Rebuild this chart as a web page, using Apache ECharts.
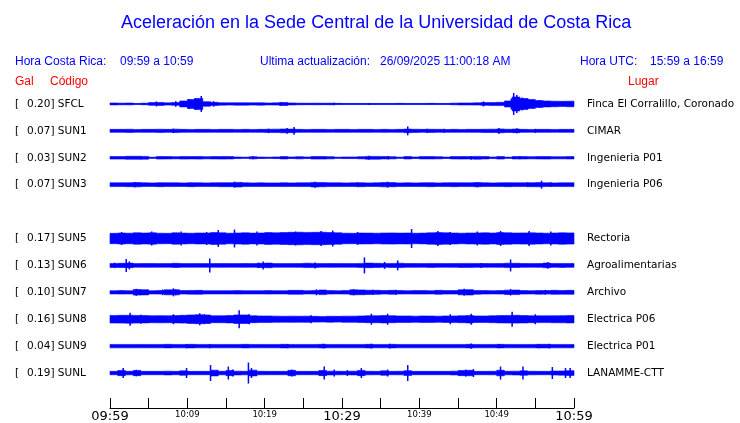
<!DOCTYPE html>
<html>
<head>
<meta charset="utf-8">
<script src="https://cdn.jsdelivr.net/npm/echarts@6/dist/echarts.min.js"></script>
<style>
body { margin: 0; background: #fff; }
#chart { width: 740px; height: 423px; }
</style>
</head>
<body>
<div id="chart"></div>
<script>
// estaciones (la fila 4 queda vacia, no hay SUN4)
var codes = ['SFCL', 'SUN1', 'SUN2', 'SUN3', 'SUN5', 'SUN6', 'SUN7', 'SUN8', 'SUN9', 'SUNL']
var gal = ['0.20', '0.07', '0.03', '0.07', '0.17', '0.13', '0.10', '0.16', '0.04', '0.19']
var places = ['Finca El Corralillo, Coronado', 'CIMAR', 'Ingenieria P01', 'Ingenieria P06', 'Rectoria',
  'Agroalimentarias', 'Archivo', 'Electrica P06', 'Electrica P01', 'LANAMME-CTT']
var rowOf = [0, 1, 2, 3, 5, 6, 7, 8, 9, 10]

// etiquetas del eje de tiempo, cada 5 minutos
var timeLabels = ['09:59', '', '10:09', '', '10:19', '', '10:29', '', '10:39', '', '10:49', '', '10:59']
var timeBig = [1, 0, 0, 0, 0, 0, 1, 0, 0, 0, 0, 0, 1]

// envolvente por minuto (media amplitud, 27 = separacion entre trazas)
var envSFCL = [1, 0.8, 0.9, 0.5, 0.8, 1.4, 1.5, 1.1, 1.4, 3, 4.5, 5.5, 2.3, 1.6, 1.2, 1.1, 1.2, 1.2, 1.1, 1.2,
  1, 1.1, 1.5, 1, 0.8, 0.7, 0.8, 0.7, 0.8, 0.6, 0.5, 0.5, 0.5, 0.5, 0.5, 0.5, 0.5, 0.6, 0.5, 0.5,
  0.5, 0.6, 0.5, 0.5, 0.8, 1, 1, 1.1, 1.4, 1.5, 1.6, 3, 7, 5.5, 4.5, 3.5, 3, 2.8, 2.6, 2.8]
var envSUN1 = [1.5, 1.5, 1.6, 1.4, 1.5, 1.5, 1.6, 1.5, 1.7, 1.5, 1.4, 1.5, 1.5, 1.4, 1.5, 1.5, 1.4, 1.5, 1.4, 1.5,
  1.6, 1.7, 1.9, 1.8, 1.5, 1.4, 1.5, 1.5, 1.4, 1.5, 1.5, 1.4, 1.5, 1.5, 1.4, 1.5, 1.4, 1.5, 1.8, 1.6,
  1.5, 1.6, 1.5, 1.4, 1.5, 1.4, 1.5, 1.5, 1.6, 1.7, 1.9, 1.6, 1.8, 1.5, 1.4, 1.5, 1.5, 1.4, 1.5, 1.5]
var envSUN2 = [1.3, 1.3, 1.5, 1.5, 1.4, 0.6, 1.3, 1.2, 1.1, 1.3, 1.2, 1.3, 1.1, 1.2, 1.3, 1.2, 0.8, 0.6, 1.1, 0.7,
  0.6, 0.8, 1.2, 0.8, 1.1, 0.8, 1.3, 1.3, 1.1, 0.6, 0.8, 0.8, 1.1, 1.4, 1.4, 1.2, 1.1, 0.6, 1.2, 0.8,
  1.2, 1.2, 1.1, 0.7, 1.2, 1.3, 1.2, 1.4, 1.2, 0.8, 1.3, 0.6, 1.2, 1.2, 1.1, 1.2, 1.3, 1.1, 1.1, 1.2]
var envSUN3 = [1.9, 1.9, 2.0, 2.2, 1.9, 1.8, 2.0, 1.9, 1.9, 1.8, 2.0, 1.9, 1.8, 1.9, 2.0, 2.0, 2.3, 1.9, 1.8, 1.9,
  1.8, 1.8, 1.9, 1.8, 1.9, 1.9, 2.3, 2.1, 1.9, 1.9, 1.8, 1.9, 2.0, 1.8, 1.9, 2.2, 2.1, 1.8, 1.9, 1.8,
  1.9, 2.0, 1.8, 1.9, 2.0, 1.9, 1.9, 2.1, 1.9, 1.8, 1.9, 2.0, 1.9, 1.9, 2.0, 2.1, 1.9, 1.8, 1.9, 1.9]
var envSUN5 = [5.2, 5.5, 5.3, 5.7, 5.5, 5.7, 5.3, 5.2, 5.7, 5.4, 5.3, 5.5, 5.5, 5.9, 5.7, 5.3, 5.5, 5.7, 5.4, 5.5,
  5.9, 5.7, 6, 6.2, 6.3, 6.1, 6.2, 6.3, 6, 5.7, 5.3, 5.2, 5.5, 5.4, 5.3, 5.5, 5.6, 5.4, 5.5, 5.3,
  5.4, 5.7, 5.9, 5.7, 5.5, 5.3, 5.5, 5.6, 5.7, 5.5, 5.9, 5.7, 5.5, 5.6, 5.7, 5.5, 5.3, 5.5, 5.7, 5.6]
var envSUN6 = [2.0, 2.1, 2.3, 1.8, 1.9, 1.9, 1.8, 1.8, 2.1, 1.8, 1.8, 1.8, 1.8, 1.8, 1.9, 1.8, 1.8, 1.9, 1.8, 2.1,
  2.3, 1.8, 1.8, 1.8, 1.9, 2.2, 2.0, 1.8, 1.9, 1.8, 1.8, 1.8, 2.0, 2.3, 2.1, 1.9, 2.0, 2.2, 1.9, 1.9,
  1.8, 2.0, 1.9, 1.8, 1.9, 2.0, 2.0, 1.9, 1.9, 1.8, 1.9, 2.2, 2.1, 1.9, 1.8, 1.9, 2.3, 1.9, 2.0, 1.9]
var envSUN7 = [1.65, 1.75, 1.65, 2.8, 2.6, 1.65, 1.75, 2.5, 2.5, 1.75, 1.85, 1.95, 1.65, 1.65, 1.65, 1.65, 1.75, 1.65, 1.65, 1.65,
  1.75, 1.65, 1.65, 1.95, 1.95, 1.65, 1.75, 2.3, 1.75, 1.65, 1.75, 2.5, 2.4, 2.1, 2.0, 1.75, 1.95, 1.75, 1.65, 1.75,
  1.75, 1.65, 1.95, 1.75, 1.75, 2.5, 2.7, 1.85, 1.75, 1.65, 1.75, 2.2, 2.3, 1.75, 1.65, 1.85, 1.75, 2.0, 1.85, 1.95]
var envSUN8 = [3.8, 3.9, 4, 3.8, 3.7, 3.5, 3.6, 3.5, 3.7, 3.9, 4.3, 4.5, 4.3, 3.5, 3.5, 3.7, 4.3, 4.3, 3.5, 3.3,
  3.3, 3.1, 3, 3.1, 3, 3.1, 2.9, 2.8, 3, 2.9, 3.1, 3.1, 3.3, 3.5, 3.5, 3.7, 3.5, 3.3, 3.3, 3.1,
  3.3, 3.2, 3.1, 3.3, 3.3, 3.5, 3.7, 3.3, 3.3, 3.5, 3.7, 3.8, 3.9, 3.7, 3.5, 3.4, 3.4, 3.5, 3.6, 3.7]
var envSUN9 = [1.7, 1.7, 1.7, 1.7, 1.7, 1.7, 1.7, 1.8, 1.7, 1.7, 1.8, 1.7, 1.7, 1.7, 1.7, 1.7, 1.7, 1.8, 1.7, 1.7,
  1.7, 1.7, 1.8, 1.7, 1.7, 1.7, 1.7, 1.8, 1.7, 1.7, 1.7, 1.7, 1.7, 1.8, 1.7, 1.7, 1.8, 1.7, 1.7, 1.7,
  1.7, 1.7, 1.7, 1.7, 1.7, 1.7, 1.8, 1.7, 1.7, 1.7, 1.8, 1.7, 1.7, 1.7, 1.7, 1.8, 1.8, 1.7, 1.7, 1.7]
var envSUNL = [1.7, 2.6, 1.8, 2.6, 1.7, 1.7, 1.7, 1.9, 1.7, 2.2, 1.7, 1.7, 1.7, 2.9, 1.8, 2.6, 1.9, 1.8, 2.9, 1.8,
  1.7, 1.7, 1.7, 2.7, 1.7, 1.7, 1.7, 2.6, 1.9, 1.8, 1.7, 1.9, 2.6, 1.8, 1.7, 2.2, 1.7, 1.8, 2.4, 1.7,
  1.7, 1.7, 1.7, 1.7, 1.9, 2.6, 2.7, 1.7, 1.7, 1.8, 2.8, 1.8, 1.9, 2.2, 1.8, 1.7, 1.7, 2.0, 2.1, 2.4]

// picos aislados [minuto, media amplitud]
var spkSFCL = [[6, 2.5], [8.5, 2.8], [10.2, 5], [11, 6], [11.8, 8], [13.4, 2.7], [22, 2], [29, 1.2], [33.5, 1],
  [48.3, 2.5], [51.9, 5.5], [52.2, 11], [52.6, 9], [53.3, 6.5], [54, 5.5], [55.5, 3.5]]
var spkSUN1 = [[8.2, 2.2], [20.5, 2.2], [22.9, 2.8], [23.8, 4], [38.5, 4.5], [41, 2.2], [43.2, 2], [50.3, 2.8], [52.6, 2.5], [55, 2]]
var spkSUN2 = [[4, 1.6], [18.5, 1.5], [33.5, 2], [36, 1.7], [46.7, 1.9], [53, 1.5]]
var spkSUN3 = [[3.2, 2.6], [16.1, 3], [17, 2.5], [26.5, 3], [32, 2.4], [35.9, 3], [47.5, 2.6], [54, 2.4], [55.8, 4], [57, 2.4]]
var spkSUN5 = [[1.5, 6.5], [5.4, 7], [9.2, 7], [12.5, 6.5], [14, 8.5], [16.1, 9], [19, 7], [24, 7], [27.3, 7.5], [28.8, 8],
  [32, 6.5], [39, 9.5], [42.4, 7.5], [44, 6.5], [47.5, 7], [50.5, 7.5], [54.2, 7.5], [57, 7]]
var spkSUN6 = [[0.6, 2.7], [2.1, 6.5], [2.5, 4], [12.9, 7], [19.2, 2.7], [19.8, 4], [26.5, 3], [32.9, 8], [35.5, 3.5],
  [37.2, 5], [48, 2.5], [51.8, 6], [56.6, 3.3]]
var spkSUN7 = [[3.4, 3.5], [6.8, 2.8], [8.2, 4], [8.5, 3], [26.7, 3], [31.5, 3], [34, 2.5], [37, 2.5], [45.8, 3.5], [51.8, 3.2], [56.3, 2.5]]
var spkSUN8 = [[2.6, 6.5], [4, 4.5], [8.2, 5], [11.6, 6], [12.2, 5], [16.7, 9], [18, 5], [26, 4], [33.8, 5.5], [35.9, 5.5],
  [44, 5], [46.7, 5.5], [52, 7.5], [55, 5]]
var spkSUN9 = [[9.9, 2.2], [12.9, 2.2], [23, 2.2], [27.6, 2.4], [33.8, 2.4], [36.2, 2.3], [46.7, 2.6], [50.3, 2.2], [55.5, 2.2], [56.8, 2.3]]
var spkSUNL = [[1.7, 5], [3.4, 3.3], [9.9, 5], [13, 8], [15.3, 6.5], [15.9, 3.5], [17.9, 10.5], [18.3, 5], [23.5, 3.5],
  [27.7, 6.5], [29, 3.5], [30.7, 3], [32.5, 5], [35.9, 3.5], [38.5, 8], [46, 3.5], [47, 4], [50.5, 6.5], [53.4, 6.5],
  [57.2, 6], [58.9, 5], [59.5, 5]]

var envelopes = [envSFCL, envSUN1, envSUN2, envSUN3, envSUN5, envSUN6, envSUN7, envSUN8, envSUN9, envSUNL]
var spikes = [spkSFCL, spkSUN1, spkSUN2, spkSUN3, spkSUN5, spkSUN6, spkSUN7, spkSUN8, spkSUN9, spkSUNL]

var blue = '#0000ff'
var leftLabels = ['', '', '', '', '', '', '', '', '', '', '']
var rightLabels = leftLabels.slice()
for (var i = 0; i < codes.length; i++) {
  leftLabels[rowOf[i]] = '{b|[}{v|' + gal[i] + '] ' + codes[i] + '}'
  rightLabels[rowOf[i]] = places[i]
}

function renderTrace (params, api) {
  var k = params.dataIndex
  var row = rowOf[k]
  var band = Math.abs(api.coord([0, 1])[1] - api.coord([0, 0])[1])
  var s = band / 27
  var yc = api.coord([0, row])[1]
  var env = envelopes[k]
  var top = []
  var bot = []
  for (var i = 0; i < env.length; i++) {
    var x0 = api.coord([i, row])[0]
    var x1 = api.coord([i + 1, row])[0]
    top.push([x0, yc - env[i] * s], [x1, yc - env[i] * s])
    bot.push([x0, yc + env[i] * s], [x1, yc + env[i] * s])
  }
  var children = [
    { type: 'line', shape: { x1: api.coord([0, row])[0], y1: yc, x2: api.coord([60, row])[0], y2: yc }, style: { stroke: blue, lineWidth: 1 } },
    { type: 'polygon', shape: { points: top.concat(bot.reverse()) }, style: { fill: blue, stroke: blue, lineWidth: 0.6 } }
  ]
  spikes[k].forEach(function (p) {
    var x = api.coord([p[0], row])[0]
    children.push({ type: 'rect', shape: { x: x - 0.75, y: yc - p[1] * s, width: 1.5, height: 2 * p[1] * s }, style: { fill: blue } })
  })
  return { type: 'group', children: children }
}

var myChart = echarts.init(document.getElementById('chart'))

var head = { fontFamily: 'Liberation Sans', fontSize: 12, fontWeight: 'normal', color: blue }
var red = { fontFamily: 'Liberation Sans', fontSize: 12, fontWeight: 'normal', color: '#ff0000' }

var option = {
  backgroundColor: '#fff',
  animation: false,
  title: [
    { text: 'Aceleración en la Sede Central de la Universidad de Costa Rica', left: 121, top: 14, padding: 0,
      textStyle: { fontFamily: 'Liberation Sans', fontSize: 18, fontWeight: 'normal', color: blue } },
    { text: 'Hora Costa Rica:', left: 15, top: 56, padding: 0, textStyle: head },
    { text: '09:59 a 10:59', left: 120, top: 56, padding: 0, textStyle: head },
    { text: 'Ultima actualización:', left: 260, top: 56, padding: 0, textStyle: head },
    { text: '26/09/2025 11:00:18 AM', left: 380, top: 56, padding: 0, textStyle: head },
    { text: 'Hora UTC:', left: 580, top: 56, padding: 0, textStyle: head },
    { text: '15:59 a 16:59', left: 650, top: 56, padding: 0, textStyle: head },
    { text: 'Gal', left: 15, top: 76, padding: 0, textStyle: red },
    { text: 'Código', left: 50, top: 76, padding: 0, textStyle: red },
    { text: 'Lugar', left: 628, top: 76, padding: 0, textStyle: red }
  ],
  grid: { left: 110, right: 166, top: 90.5, height: 297 },
  xAxis: {
    type: 'value',
    min: 0,
    max: 60,
    interval: 5,
    offset: 21.5,
    splitLine: { show: false },
    axisLine: { show: true, onZero: false, lineStyle: { color: '#000', width: 1 } },
    axisTick: { show: true, inside: true, length: 10, lineStyle: { color: '#000' } },
    axisLabel: {
      margin: 2,
      showMinLabel: true,
      showMaxLabel: true,
      formatter: function (v) {
        var i = Math.round(v / 5)
        if (!timeLabels[i]) return ''
        return timeBig[i] ? '{big|' + timeLabels[i] + '}' : '{small|' + timeLabels[i] + '}'
      },
      rich: {
        big: { fontFamily: 'DejaVu Sans', fontSize: 13, color: '#000' },
        small: { fontFamily: 'DejaVu Sans', fontSize: 8.5, color: '#000' }
      }
    }
  },
  yAxis: [
    {
      type: 'category',
      inverse: true,
      data: leftLabels,
      axisLine: { show: false },
      axisTick: { show: false },
      splitLine: { show: false },
      axisLabel: {
        align: 'left',
        margin: 95,
        interval: 0,
        rich: {
          b: { fontFamily: 'DejaVu Sans', fontSize: 10.5, color: '#000', width: 12 },
          v: { fontFamily: 'DejaVu Sans', fontSize: 10.5, color: '#000' }
        }
      }
    },
    {
      type: 'category',
      inverse: true,
      position: 'right',
      data: rightLabels,
      axisLine: { show: false },
      axisTick: { show: false },
      splitLine: { show: false },
      axisLabel: { align: 'left', margin: 13, interval: 0, fontFamily: 'DejaVu Sans', fontSize: 10.5, color: '#000' }
    }
  ],
  series: [
    {
      type: 'custom',
      renderItem: renderTrace,
      xAxisIndex: 0,
      yAxisIndex: 0,
      encode: { x: 0, y: 1 },
      data: rowOf.map(function (r) { return [0, r] })
    }
  ]
}

myChart.setOption(option)
</script>
</body>
</html>
